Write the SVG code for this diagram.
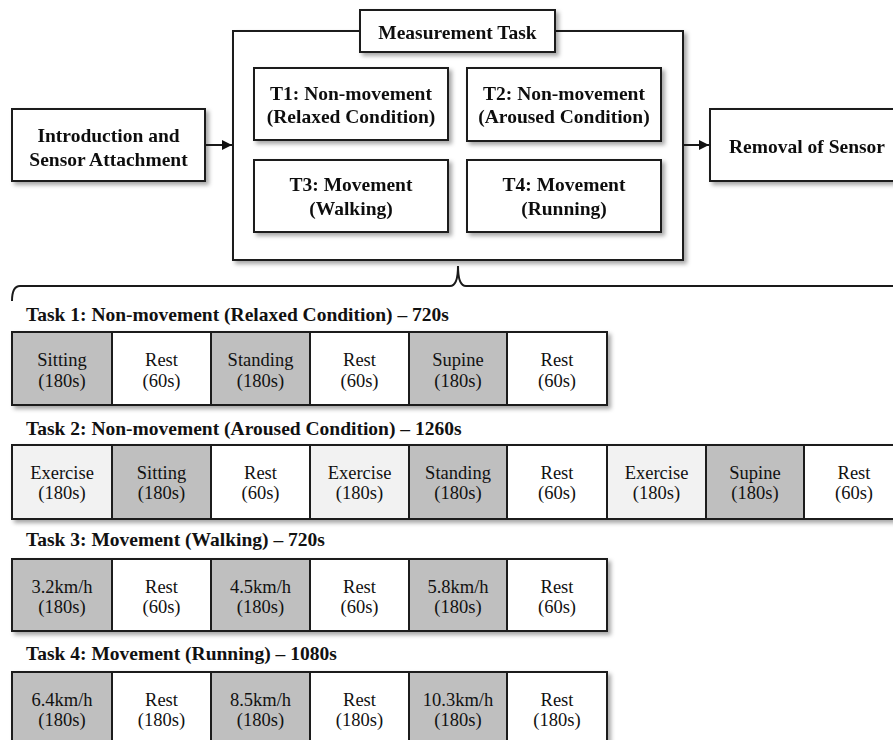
<svg xmlns="http://www.w3.org/2000/svg" width="893" height="740" viewBox="0 0 893 740">
<defs>
<filter id="sh" x="-10%" y="-10%" width="125%" height="130%">
<feDropShadow dx="3" dy="3" stdDeviation="2" flood-color="#000" flood-opacity="0.35"/>
</filter>
<marker id="arr" viewBox="0 0 10 10" refX="10" refY="5" markerWidth="10" markerHeight="10" markerUnits="userSpaceOnUse" orient="auto">
<path d="M0,0 L10,5 L0,10 z" fill="#111"/>
</marker>
<style>
.box{fill:#fff;stroke:#1a1a1a;stroke-width:2}
.b{font-family:"Liberation Serif","Times New Roman",serif;font-weight:bold;font-size:19.5px;fill:#111;text-anchor:middle}
.t{font-family:"Liberation Serif","Times New Roman",serif;font-weight:bold;font-size:19.5px;fill:#111}
.c{font-family:"Liberation Serif","Times New Roman",serif;font-size:18.5px;fill:#111;text-anchor:middle}
.dk{fill:#bfbfbf;stroke:#1a1a1a;stroke-width:2}
.lt{fill:#f2f2f2;stroke:#1a1a1a;stroke-width:2}
.wh{fill:#fff;stroke:#1a1a1a;stroke-width:2}
.ln{fill:none;stroke:#1a1a1a;stroke-width:2}
</style>
</defs>

<g id="intro" filter="url(#sh)">
<rect class="box" x="12" y="109" width="193" height="72"/>
<text class="b" x="108.5" y="141.5">Introduction and</text>
<text class="b" x="108.5" y="166">Sensor Attachment</text>
</g>

<g id="measurement-container" filter="url(#sh)">
<rect class="box" x="233" y="31" width="450" height="229"/>
</g>
<g id="measurement-label" filter="url(#sh)">
<rect class="box" x="360" y="10" width="195" height="42"/>
<text class="b" x="457.5" y="39">Measurement Task</text>
</g>
<g id="t1" filter="url(#sh)">
<rect class="box" x="254" y="68" width="194" height="72"/>
<text class="b" x="351" y="99.5">T1: Non-movement</text>
<text class="b" x="351" y="123">(Relaxed Condition)</text>
</g>
<g id="t2" filter="url(#sh)">
<rect class="box" x="467" y="68" width="194" height="73"/>
<text class="b" x="564" y="99.5">T2: Non-movement</text>
<text class="b" x="564" y="123">(Aroused Condition)</text>
</g>
<g id="t3" filter="url(#sh)">
<rect class="box" x="254" y="160" width="194" height="72"/>
<text class="b" x="351" y="191">T3: Movement</text>
<text class="b" x="351" y="215">(Walking)</text>
</g>
<g id="t4" filter="url(#sh)">
<rect class="box" x="467" y="160" width="194" height="72"/>
<text class="b" x="564" y="191">T4: Movement</text>
<text class="b" x="564" y="215">(Running)</text>
</g>

<g id="removal" filter="url(#sh)">
<rect class="box" x="710" y="109" width="195" height="72"/>
<text class="b" x="807" y="153">Removal of Sensor</text>
</g>

<g id="connectors">
<line class="ln" x1="205" y1="145" x2="232" y2="145" marker-end="url(#arr)"/>
<line class="ln" x1="683" y1="145" x2="709" y2="145" marker-end="url(#arr)"/>
<path class="ln" d="M12,301 Q12,286 20,286 L450,286 Q458,286 458,266 Q458,286 466,286 L895,286"/>
</g>

<g id="task1">
<text class="t" x="26" y="321">Task 1: Non-movement (Relaxed Condition) – 720s</text>
<g filter="url(#sh)">
<rect class="dk" x="12" y="332" width="100" height="73"/>
<rect class="wh" x="112" y="332" width="99" height="73"/>
<rect class="dk" x="211" y="332" width="99" height="73"/>
<rect class="wh" x="310" y="332" width="99" height="73"/>
<rect class="dk" x="409" y="332" width="98" height="73"/>
<rect class="wh" x="507" y="332" width="100" height="73"/>
</g>
<text class="c" x="62" y="366">Sitting</text><text class="c" x="62" y="386.5">(180s)</text>
<text class="c" x="161.5" y="366">Rest</text><text class="c" x="161.5" y="386.5">(60s)</text>
<text class="c" x="260.5" y="366">Standing</text><text class="c" x="260.5" y="386.5">(180s)</text>
<text class="c" x="359.5" y="366">Rest</text><text class="c" x="359.5" y="386.5">(60s)</text>
<text class="c" x="458" y="366">Supine</text><text class="c" x="458" y="386.5">(180s)</text>
<text class="c" x="557" y="366">Rest</text><text class="c" x="557" y="386.5">(60s)</text>
</g>

<g id="task2">
<text class="t" x="26" y="435">Task 2: Non-movement (Aroused Condition) – 1260s</text>
<g filter="url(#sh)">
<rect class="lt" x="12" y="445" width="100" height="74"/>
<rect class="dk" x="112" y="445" width="99" height="74"/>
<rect class="wh" x="211" y="445" width="99" height="74"/>
<rect class="lt" x="310" y="445" width="99" height="74"/>
<rect class="dk" x="409" y="445" width="98" height="74"/>
<rect class="wh" x="507" y="445" width="100" height="74"/>
<rect class="lt" x="607" y="445" width="99" height="74"/>
<rect class="dk" x="706" y="445" width="98" height="74"/>
<rect class="wh" x="804" y="445" width="100" height="74"/>
</g>
<text class="c" x="62" y="478.5">Exercise</text><text class="c" x="62" y="499">(180s)</text>
<text class="c" x="161.5" y="478.5">Sitting</text><text class="c" x="161.5" y="499">(180s)</text>
<text class="c" x="260.5" y="478.5">Rest</text><text class="c" x="260.5" y="499">(60s)</text>
<text class="c" x="359.5" y="478.5">Exercise</text><text class="c" x="359.5" y="499">(180s)</text>
<text class="c" x="458" y="478.5">Standing</text><text class="c" x="458" y="499">(180s)</text>
<text class="c" x="557" y="478.5">Rest</text><text class="c" x="557" y="499">(60s)</text>
<text class="c" x="656.5" y="478.5">Exercise</text><text class="c" x="656.5" y="499">(180s)</text>
<text class="c" x="755" y="478.5">Supine</text><text class="c" x="755" y="499">(180s)</text>
<text class="c" x="854" y="478.5">Rest</text><text class="c" x="854" y="499">(60s)</text>
</g>

<g id="task3">
<text class="t" x="26" y="546">Task 3: Movement (Walking) – 720s</text>
<g filter="url(#sh)">
<rect class="dk" x="12" y="559" width="100" height="72"/>
<rect class="wh" x="112" y="559" width="99" height="72"/>
<rect class="dk" x="211" y="559" width="99" height="72"/>
<rect class="wh" x="310" y="559" width="99" height="72"/>
<rect class="dk" x="409" y="559" width="98" height="72"/>
<rect class="wh" x="507" y="559" width="100" height="72"/>
</g>
<text class="c" x="62" y="592.5">3.2km/h</text><text class="c" x="62" y="613">(180s)</text>
<text class="c" x="161.5" y="592.5">Rest</text><text class="c" x="161.5" y="613">(60s)</text>
<text class="c" x="260.5" y="592.5">4.5km/h</text><text class="c" x="260.5" y="613">(180s)</text>
<text class="c" x="359.5" y="592.5">Rest</text><text class="c" x="359.5" y="613">(60s)</text>
<text class="c" x="458" y="592.5">5.8km/h</text><text class="c" x="458" y="613">(180s)</text>
<text class="c" x="557" y="592.5">Rest</text><text class="c" x="557" y="613">(60s)</text>
</g>

<g id="task4">
<text class="t" x="26" y="659.5">Task 4: Movement (Running) – 1080s</text>
<g filter="url(#sh)">
<rect class="dk" x="12" y="672" width="100" height="75"/>
<rect class="wh" x="112" y="672" width="99" height="75"/>
<rect class="dk" x="211" y="672" width="99" height="75"/>
<rect class="wh" x="310" y="672" width="99" height="75"/>
<rect class="dk" x="409" y="672" width="98" height="75"/>
<rect class="wh" x="507" y="672" width="100" height="75"/>
</g>
<text class="c" x="62" y="705.5">6.4km/h</text><text class="c" x="62" y="726">(180s)</text>
<text class="c" x="161.5" y="705.5">Rest</text><text class="c" x="161.5" y="726">(180s)</text>
<text class="c" x="260.5" y="705.5">8.5km/h</text><text class="c" x="260.5" y="726">(180s)</text>
<text class="c" x="359.5" y="705.5">Rest</text><text class="c" x="359.5" y="726">(180s)</text>
<text class="c" x="458" y="705.5">10.3km/h</text><text class="c" x="458" y="726">(180s)</text>
<text class="c" x="557" y="705.5">Rest</text><text class="c" x="557" y="726">(180s)</text>
</g>
</svg>
